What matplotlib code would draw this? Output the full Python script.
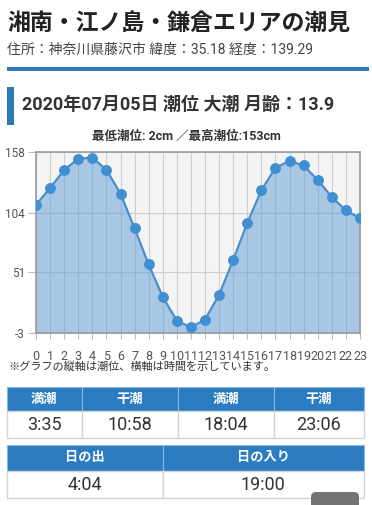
import matplotlib
matplotlib.use("Agg")
import matplotlib.pyplot as plt
from matplotlib.patches import Rectangle, FancyBboxPatch

plt.rcParams['font.family'] = ['Roboto', 'Noto Sans CJK JP', 'DejaVu Sans']

# tide level (cm) for each hour
hours = list(range(24))
tide = [111, 126, 142, 152, 153, 142, 121, 90, 58, 29, 8, 2,
        9, 31, 62, 95, 124, 144, 150, 146, 133, 118, 106, 99]
y_ticks = [158, 104, 51, -3]

title = "湘南・江ノ島・鎌倉エリアの潮見"
address = "住所：神奈川県藤沢市 緯度：35.18 経度：139.29"
heading = "2020年07月05日 潮位 大潮 月齢：13.9"
minmax = "最低潮位: 2cm ／最高潮位:153cm"
note = "※グラフの縦軸は潮位、横軸は時間を示しています。"

tide_labels = ["満潮", "干潮", "満潮", "干潮"]
tide_times = ["3:35", "10:58", "18:04", "23:06"]
sun_labels = ["日の出", "日の入り"]
sun_times = ["4:04", "19:00"]

W, H = 372, 505
BLUE = "#2b7cc0"
fig = plt.figure(figsize=(W / 100, H / 100), dpi=100)
fig.patch.set_facecolor("white")

# overlay axes in pixel coordinates for the page parts
bg = fig.add_axes([0, 0, 1, 1])
bg.set_xlim(0, W)
bg.set_ylim(H, 0)
bg.axis("off")

bg.text(7, 23, title, fontsize=16.5, fontweight="bold", color="#222222", va="center")
bg.text(7, 50, address, fontsize=10, color="#444444", va="center")
bg.add_patch(Rectangle((7, 66.5), 362, 4, color="#2e7bb4", lw=0))
bg.add_patch(Rectangle((7, 87), 7, 38, color="#2e7bb4", lw=0))
bg.text(22, 105, heading, fontsize=13, fontweight="bold", color="#333333", va="center")
bg.text(186, 136, minmax, fontsize=9, fontweight="bold", color="#333333",
        ha="center", va="center")
bg.text(8, 367, note, fontsize=8, color="#333333", va="center")


def draw_table(edges, top, mid, bottom, labels, values):
    for i in range(len(labels)):
        x0, x1 = edges[i], edges[i + 1]
        bg.add_patch(Rectangle((x0, top), x1 - x0, mid - top, facecolor=BLUE,
                               edgecolor="#8fb8dc", lw=0.8))
        bg.add_patch(Rectangle((x0, mid), x1 - x0, bottom - mid, facecolor="white",
                               edgecolor="#d4d4d4", lw=1))
        cx = (x0 + x1) / 2
        bg.text(cx, (top + mid) / 2, labels[i], fontsize=9.5, fontweight="bold",
                color="white", ha="center", va="center")
        bg.text(cx, (mid + bottom) / 2, values[i], fontsize=13, color="#333333",
                ha="center", va="center")


draw_table([7, 81.5, 177.5, 273.5, 364], 387, 411, 438, tide_labels, tide_times)
draw_table([7, 162.5, 364], 445, 471, 498, sun_labels, sun_times)

bg.add_patch(FancyBboxPatch((311, 492), 48, 20, boxstyle="round,pad=0,rounding_size=5",
                            facecolor="#737373", edgecolor="none"))

# tide chart
ax = fig.add_axes([36 / W, 1 - 333 / H, 324 / W, 181 / H])
ax.set_facecolor("#f4f4f4")
ax.set_xlim(0, 23)
ax.set_ylim(-3, 158)
ax.set_xticks(hours)
ax.set_yticks(y_ticks)
ax.set_xticklabels([str(h) for h in hours], fontsize=9, color="#555555")
ax.set_yticklabels([str(v) for v in y_ticks], fontsize=8.5, color="#555555")
ax.tick_params(axis="x", length=4, width=0.8, color="#bbbbbb", pad=8)
ax.tick_params(axis="y", length=6, width=0.8, color="#bbbbbb", pad=2)
ax.grid(True, color="#cfcfcf", lw=0.8)
ax.set_axisbelow(True)
for s in ax.spines.values():
    s.set_color("#9a9a9a")
    s.set_linewidth(1.2)

ax.fill_between(hours, tide, -3, color="#5b9bd5", alpha=0.5, lw=0, zorder=2)
ax.plot(hours, tide, color="#4a8fcc", lw=1.6, marker="o", markersize=6.8,
        markerfacecolor="#3f8fd2", markeredgecolor="#3f8fd2", zorder=3)

fig.savefig("out.png", dpi=100)
